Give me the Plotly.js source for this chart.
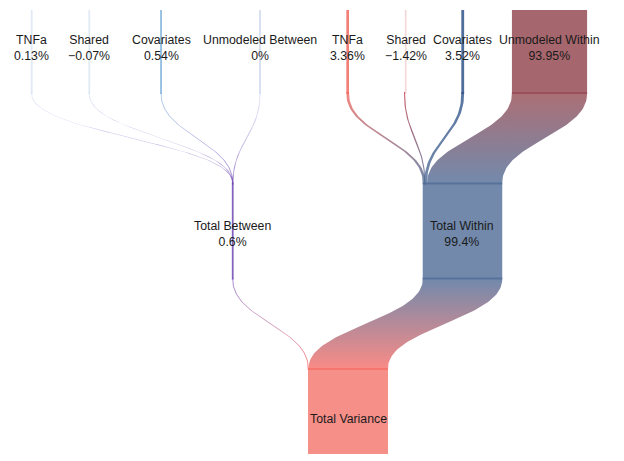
<!DOCTYPE html>
<html>
<head>
<meta charset="utf-8">
<script src="https://cdn.plot.ly/plotly-3.0.1.min.js"></script>
<style>html,body{margin:0;padding:0;background:#fff;}</style>
</head>
<body>
<div id="chart" style="width:624px;height:461px;"></div>
<script>
// ---------------- data ----------------
const nodeLabels = ["TNFa", "Shared", "Covariates", "Unmodeled Between",
                    "TNFa", "Shared", "Covariates", "Unmodeled Within",
                    "Total Between", "Total Within", "Total Variance"];
const nodeValues = [0.13, -0.07, 0.54, 0, 3.36, -1.42, 3.52, 93.95, 0.6, 99.4, 100];
const nodeShowValue = [true, true, true, true, true, true, true, true, true, true, false];
const nodeLevel = [0, 0, 0, 0, 0, 0, 0, 0, 1, 1, 2];
const linkSource = [0, 1, 2, 3, 4, 5, 6, 7, 8, 9];
const linkTarget = [8, 8, 8, 8, 9, 9, 9, 9, 10, 10];
const linkValues = [0.13, -0.07, 0.54, 0, 3.36, -1.42, 3.52, 93.95, 0.6, 99.4];

// ---------------- layout / style ----------------
// node centre along the x axis (x axis is in percent-of-variance units)
const nodeCenterX = [39.6, 111.6, 201.3, 325, 434.6, 507.1, 578.4, 686.9, 290.9, 578.1, 435];
const nodeFill = [
  "rgba(214,225,240,0.75)", "rgba(214,225,240,0.7)", "rgba(124,176,219,0.85)", "rgba(200,212,235,0.75)",
  "rgba(242,104,95,0.85)", "rgba(225,160,160,0.4)", "rgba(48,84,138,0.85)", "rgba(150,75,84,0.85)",
  "rgba(111,71,181,0.85)", "rgba(89,116,156,0.85)", "rgba(246,123,116,0.85)"];
const nodeLinkColor = [
  "rgba(205,215,238,0.5)", "rgba(205,215,238,0.5)", "rgba(124,176,219,0.6)", "rgba(205,210,238,0.5)",
  "rgba(242,104,95,0.8)", "rgba(185,55,70,0.8)", "rgba(48,84,138,0.8)", "rgba(150,75,84,0.8)",
  "rgba(111,71,181,0.6)", "rgba(80,108,150,0.8)", "rgba(246,110,104,0.8)"];
const HALF_H = 0.2615;     // half node height in level units
const EXT = 0.011;         // link overlap into nodes
const MIN_NODE_W = 2.25;   // in x units
const MIN_LINK_W = 1.25;
const CURVE_K = 0.45;
const FONT = {family: "'Liberation Sans', Arial, sans-serif", size: 12.3, color: "#1a1a1a"};

function fmt(v) { return String(v).replace("-", "\u2212") + "%"; }
function bez(a, b, c, d, t) { const u = 1 - t; return u*u*u*a + 3*u*u*t*b + 3*u*t*t*c + t*t*t*d; }

const traces = [];
// nodes
nodeLabels.forEach((lab, i) => {
  const w = Math.max(Math.abs(nodeValues[i]), MIN_NODE_W);
  const x0 = nodeCenterX[i] - w / 2, x1 = nodeCenterX[i] + w / 2;
  const y0 = nodeLevel[i] - HALF_H, y1 = nodeLevel[i] + HALF_H;
  traces.push({
    type: "scatter", mode: "lines", x: [x0, x1, x1, x0, x0], y: [y0, y0, y1, y1, y0],
    fill: "toself", fillcolor: nodeFill[i], line: {width: 0}, hoverinfo: "skip"
  });
});

// link stacking positions
const outCum = nodeValues.map((v, i) => nodeCenterX[i] - Math.abs(v) / 2);
const inCum = nodeValues.map((v, i) => nodeCenterX[i] - Math.abs(v) / 2);
function span(cumArr, node, v) {
  const a = cumArr[node], b = a + v;
  cumArr[node] = b;
  let lo = Math.min(a, b), hi = Math.max(a, b);
  if (hi - lo < MIN_LINK_W) { const c = (lo + hi) / 2; lo = c - MIN_LINK_W / 2; hi = c + MIN_LINK_W / 2; }
  return [lo, hi];
}
const N = 60;
linkValues.forEach((v, k) => {
  const s = linkSource[k], t = linkTarget[k];
  const [xs0, xs1] = span(outCum, s, v);
  const [xt0, xt1] = span(inCum, t, v);
  const ys = nodeLevel[s] + HALF_H, yt = nodeLevel[t] - HALF_H, d = yt - ys;
  const left = [], right = [];
  for (let i = 0; i <= N; i++) {
    const tt = i / N;
    const y = bez(ys, ys + CURVE_K * d, yt - CURVE_K * d, yt, tt);
    left.push([bez(xs0, xs0, xt0, xt0, tt), y]);
    right.push([bez(xs1, xs1, xt1, xt1, tt), y]);
  }
  const pts = [[xs0, ys - EXT]].concat(left, [[xt0, yt + EXT], [xt1, yt + EXT]], right.reverse(), [[xs1, ys - EXT]]);
  traces.push({
    type: "scatter", mode: "lines",
    x: pts.map(p => p[0]), y: pts.map(p => p[1]),
    fill: "toself", line: {width: 0}, hoverinfo: "skip",
    fillcolor: nodeLinkColor[s],
    fillgradient: {type: "vertical", start: ys, stop: yt,
                   colorscale: [[0, nodeLinkColor[s]], [1, nodeLinkColor[t]]]}
  });
});

// labels
const annotations = nodeLabels.map((lab, i) => ({
  x: nodeCenterX[i], y: nodeLevel[i], xref: "x", yref: "y",
  text: nodeShowValue[i] ? lab + "<br>" + fmt(nodeValues[i]) : lab,
  showarrow: false, font: FONT, align: "center",
  xanchor: "center", yanchor: "middle", yshift: -2.5
}));

const layout = {
  width: 624, height: 461,
  margin: {l: 0, r: 0, t: 10, b: 7, pad: 0},
  paper_bgcolor: "#fff", plot_bgcolor: "#fff",
  showlegend: false,
  xaxis: {range: [0, 780], visible: false, fixedrange: true},
  yaxis: {range: [2.2022, -0.1914], visible: false, fixedrange: true},
  annotations: annotations
};
Plotly.newPlot("chart", traces, layout, {displayModeBar: false, staticPlot: true});
</script>
</body>
</html>
